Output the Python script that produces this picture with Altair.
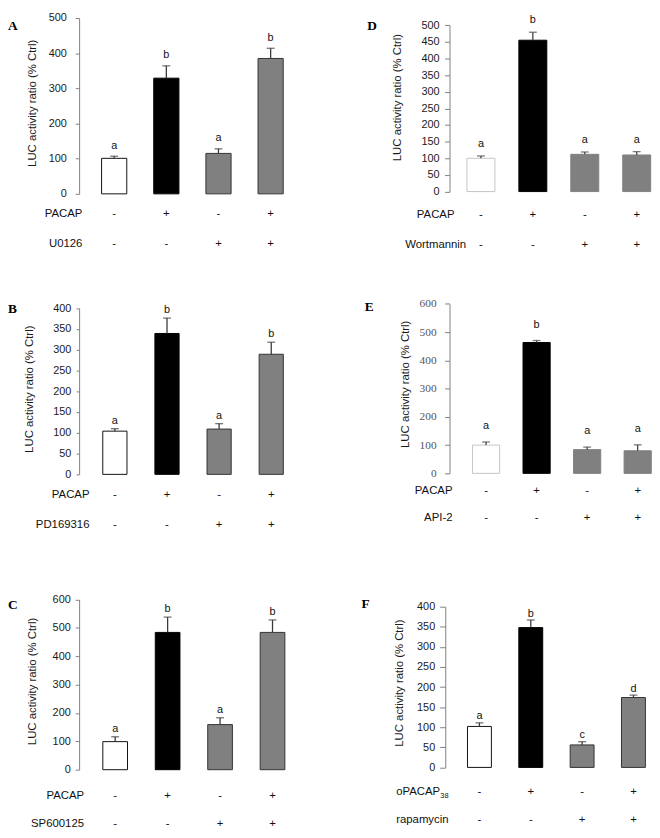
import altair as alt
import pandas as pd

# ---------------- data ----------------
cats = ["c1", "c2", "c3", "c4"]
groups = ["ctrl", "pacap", "inh", "both"]
sign1 = ["-", "+", "-", "+"]
sign2 = ["-", "-", "+", "+"]
y_title = "LUC activity ratio (% Ctrl)"

A_vals = [101, 329, 115, 385]
A_sem = [6, 35, 13, 29]
A_let = ["a", "b", "a", "b"]

B_vals = [104, 339, 109, 289]
B_sem = [6, 37, 13, 29]
B_let = ["a", "b", "a", "b"]

C_vals = [99, 484, 159, 484]
C_sem = [17, 54, 24, 44]
C_let = ["a", "b", "a", "b"]

D_vals = [100, 455, 112, 110]
D_sem = [7, 24, 7, 10]
D_let = ["a", "b", "a", "a"]

E_vals = [100, 463, 84, 80]
E_sem = [11, 7, 9, 21]
E_let = ["a", "b", "a", "a"]

F_vals = [102, 348, 56, 174]
F_sem = [9, 19, 8, 6]
F_let = ["a", "b", "c", "d"]

SANS = "Liberation Sans"
SERIF = "Liberation Serif"

STYLES = {
    "dark": dict(fill=["#ffffff", "#000000", "#808080", "#808080"],
                 stroke=["#111111", "#000000", "#333333", "#333333"],
                 err="#3a3a3a"),
    "light": dict(fill=["#ffffff", "#000000", "#808080", "#808080"],
                  stroke=["#c4c4c4", "#000000", "#808080", "#808080"],
                  err="#444444"),
}


def band_layout(start0, step, bw, n=4):
    # symmetric outer padding: plot width chosen so that bars sit where they do in the figure
    pi = 1 - bw / step
    po = start0 / step
    width = 2 * start0 + (n - 1) * step + bw
    return alt.Scale(domain=cats, paddingInner=pi, paddingOuter=po), width


def panel(vals, sem, lets, ymax, tstep, Hc, rng, bandp, ax, rows, row_dy,
          lab_x, lab_align, letter, letter_pos, let_dy, style, serif_ticks=False,
          subscript=None):
    st = STYLES[style]
    bot, top = rng
    df = pd.DataFrame({
        "cat": cats, "grp": groups, "val": vals,
        "top": [v + s for v, s in zip(vals, sem)],
        "let": lets, "s1": sign1, "s2": sign2,
    })
    xs, W = band_layout(*bandp)
    x = alt.X("cat:N", scale=xs, axis=None)
    yaxis = alt.Axis(
        values=list(range(0, ymax + 1, tstep)), title=y_title,
        titleX=ax["tx"], titleY=top + ax["ty"], titleAngle=270, titleBaseline="middle",
        titleAlign="center", titleFont=SANS, titleFontSize=11.5,
        titleFontWeight="normal", titleColor="#1a1a1a",
        labelFont=SERIF if serif_ticks else SANS,
        labelFontSize=11.5 if serif_ticks else 11,
        labelColor="#555555" if serif_ticks else "#1a1a1a",
        labelPadding=ax["pad"], tickSize=ax["ts"], tickColor="#808080",
        domainColor="#808080", grid=False, offset=ax.get("off", 0),
        labelFlush=False, labelOverlap=False,
    )
    yscale = alt.Scale(domain=[0, ymax], range=[bot, top], nice=False, zero=True)

    def Y(field):
        return alt.Y(field, scale=yscale, axis=yaxis)

    base = alt.Chart(df)
    bars = base.mark_bar(strokeWidth=1).encode(
        x=x, y=Y("val:Q"),
        fill=alt.Fill("grp:N", scale=alt.Scale(domain=groups, range=st["fill"]), legend=None),
        stroke=alt.Stroke("grp:N", scale=alt.Scale(domain=groups, range=st["stroke"]), legend=None),
    )
    err = base.mark_rule(color=st["err"], strokeWidth=1.3).encode(
        x=x, y=Y("val:Q"), y2="top:Q")
    cap = base.mark_tick(orient="horizontal", size=8, thickness=1.3, color=st["err"]).encode(
        x=x, y=Y("top:Q"))
    lettxt = base.mark_text(font=SANS, fontSize=11, dy=let_dy, baseline="alphabetic",
                            color="#111111").encode(x=x, y=Y("top:Q"), text="let:N")
    r1 = base.mark_text(font=SANS, fontSize=11.5, baseline="middle", color="#111111").encode(
        x=x, y=alt.value(bot + row_dy[0]), text="s1:N")
    r2 = base.mark_text(font=SANS, fontSize=11.5, baseline="middle", color="#111111").encode(
        x=x, y=alt.value(bot + row_dy[1]), text="s2:N")
    layers = [bars, err, cap, lettxt, r1, r2]
    for name, dyv in zip(rows, row_dy):
        layers.append(
            alt.Chart(pd.DataFrame({"t": [name]})).mark_text(
                font=SANS, fontSize=11.5, baseline="middle", align=lab_align, color="#111111"
            ).encode(x=alt.value(lab_x), y=alt.value(bot + dyv), text="t:N"))
    if subscript is not None:
        sx, stxt = subscript
        layers.append(
            alt.Chart(pd.DataFrame({"t": [stxt]})).mark_text(
                font=SANS, fontSize=7.5, baseline="middle", align="left", color="#111111"
            ).encode(x=alt.value(sx), y=alt.value(bot + row_dy[0] + 3.5), text="t:N"))
    layers.append(
        alt.Chart(pd.DataFrame({"t": [letter]})).mark_text(
            font=SERIF, fontSize=13.5, fontWeight="bold", baseline="alphabetic",
            align="left", color="#000000"
        ).encode(x=alt.value(letter_pos[0]), y=alt.value(top + letter_pos[1]), text="t:N"))
    return alt.layer(*layers).properties(width=W, height=Hc), W


H1, H2, H3 = 178, 188, 173

pA, wA = panel(A_vals, A_sem, A_let, 500, 100, H1, (178, 0), (22.75, 52.8, 25.5),
               dict(tx=-46.7, ty=85.8, pad=9, ts=4), ("PACAP", "U0126"), (20.6, 50.6),
               3.3, "right", "A", (-72, 12.3), -7.5, "dark")
pD, wD = panel(D_vals, D_sem, D_let, 500, 50, H1, (175.7, 7.3), (17.65, 52.57, 28.3),
               dict(tx=-52.3, ty=72.7, pad=5.5, ts=5), ("PACAP", "Wortmannin"), (23.3, 54.3),
               -14, "center", "D", (-83.3, 4.4), -9, "light")
pB, wB = panel(B_vals, B_sem, B_let, 400, 50, H2, (173, 4.7), (23.95, 52.77, 24.5),
               dict(tx=-50, ty=81.6, pad=5.3, ts=3), ("PACAP", "PD169316"), (20.7, 51.7),
               10.5, "right", "B", (-72, 5), -5, "dark")
pE, wE = panel(E_vals, E_sem, E_let, 600, 100, H2, (172, 0.3), (23.25, 51.17, 27.5),
               dict(tx=-45, ty=81, pad=8.6, ts=5), ("PACAP", "API-2"), (17.7, 45.3),
               3, "right", "E", (-85.7, 7), -13, "light", serif_ticks=True)
pC, wC = panel(C_vals, C_sem, C_let, 600, 100, H3, (173, 0.7), (24, 53.1, 25),
               dict(tx=-46.7, ty=82.5, pad=5, ts=4), ("PACAP", "SP600125"), (26.7, 55.3),
               5, "right", "C", (-72, 10), -5, "dark")
pF, wF = panel(F_vals, F_sem, F_let, 400, 50, H3, (170.7, 8), (18.2, 51.97, 24.2),
               dict(tx=-46.7, ty=76.8, pad=5, ts=5.7, off=4.3), ("oPACAP", "rapamycin"), (25, 53.3),
               -54, "left", "F", (-89, 1), -3.5, "dark", subscript=(-9.3, "38"))

import math
left_extent = math.ceil(max(wA, wB, wC))
col_gap = 375 - left_extent

chart = alt.concat(
    pA, pD, pB, pE, pC, pF,
    columns=2, spacing={"row": 111, "column": col_gap}, align="each", bounds="flush",
    padding={"top": 5, "bottom": 825, "left": 72, "right": 580},
    autosize=alt.AutoSizeParams(type="none"),
).resolve_scale(fill="independent", stroke="independent").configure_view(stroke=None)

chart.save("out.html", embed_options={"renderer": "svg", "actions": False})
